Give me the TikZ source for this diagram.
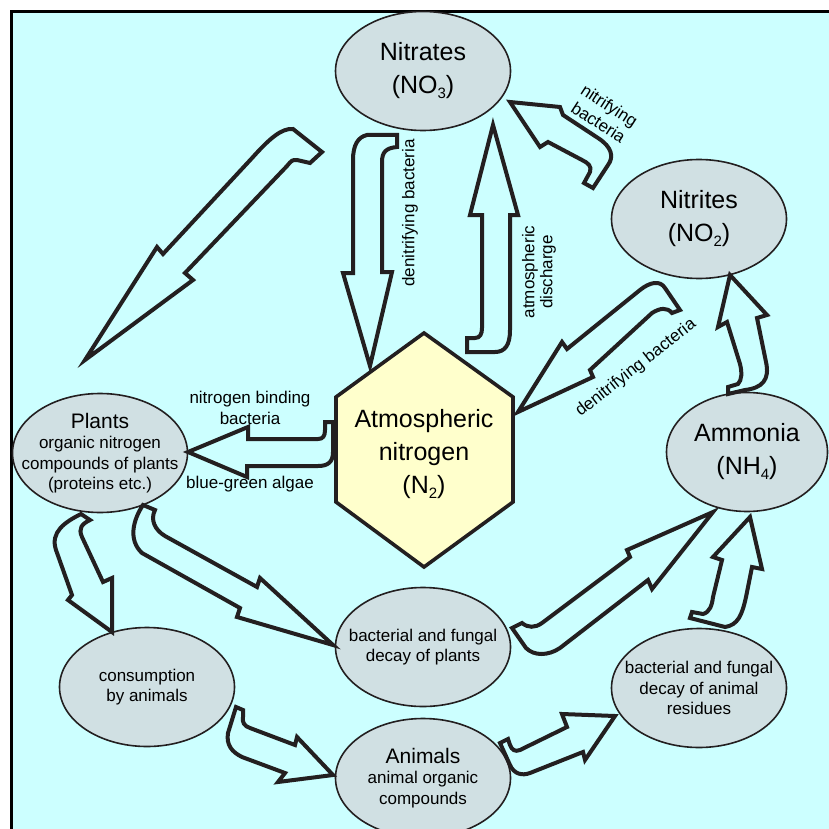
\documentclass[tikz,border=0pt]{standalone}
\usepackage{fontspec}
\setmainfont{Liberation Sans}
\usetikzlibrary{shapes.geometric}
\definecolor{skyback}{RGB}{204,255,255}
\definecolor{poolgrey}{RGB}{208,224,227}
\definecolor{airyellow}{RGB}{255,255,204}
\definecolor{inkline}{RGB}{35,31,32}
\newcommand\lowsub[1]{\raisebox{-5pt}{\fontsize{15}{15}\selectfont #1}}

\begin{document}
\begin{tikzpicture}[x=1pt,y=-1pt,
  pool/.style={draw=inkline,line width=1.6pt,fill=poolgrey,ellipse,minimum width=175pt,minimum height=119pt,inner sep=0pt},
  bigpool/.style={pool,label={[font=\fontsize{25}{33}\selectfont,align=center]center:{#1}}},
  smallpool/.style={pool,label={[font=\fontsize{17}{20.5}\selectfont,align=center]center:{#1}}},
  smalltext/.style={font=\fontsize{17}{20.5}\selectfont},
  fatarrow/.style={draw=inkline,line width=4pt}]
\useasboundingbox (0,0) rectangle (829,829);
\fill[white] (0,0) rectangle (829,829);
\fill[skyback] (12,12) rectangle (829,829);
\draw[line width=3pt] (11.5,829) -- (11.5,11.5) -- (829,11.5);

\draw[line width=3.6pt,draw=inkline,fill=airyellow] (424,333) -- (513,397) -- (513,502) -- (424,567) -- (336,502) -- (336,397) -- cycle;
\node[font=\fontsize{25}{33}\selectfont,align=center] (air) at (424,454) {Atmospheric\\nitrogen\\(N\lowsub{2})};

\node[bigpool={Nitrates\\(NO\lowsub{3})}] (nitrates) at (423,71) {};
\node[bigpool={Nitrites\\(NO\lowsub{2})}] (nitrites) at (699,219) {};
\node[bigpool={Ammonia\\(NH\lowsub{4})},minimum width=161pt] (ammonia) at (747,452) {};
\node[smallpool={{\fontsize{21}{23}\selectfont Plants}\\organic nitrogen\\compounds of plants\\(proteins etc.)}] (plants) at (100,453) {};
\node[smallpool={bacterial and fungal\\decay of plants}] (decplants) at (423,647) {};
\node[smallpool={consumption\\by animals}] (consume) at (147,687) {};
\node[smallpool={{\fontsize{21}{23}\selectfont Animals}\\animal organic\\compounds}] (animals) at (423,778) {};
\node[smallpool={bacterial and fungal\\decay of animal\\residues}] (decanimals) at (699,688) {};

\node[smalltext,rotate=90] (denitup) at (410,213) {denitrifying bacteria};
\node[rotate=90,align=center,font=\fontsize{17}{18}\selectfont] (discharge) at (539,272) {atmospheric\\discharge};
\node[rotate=-33,align=center,font=\fontsize{17}{20}\selectfont] (nitrify) at (604,114) {nitrifying\\bacteria};
\node[smalltext,rotate=38] (denitright) at (636,368) {denitrifying bacteria};
\node[smalltext,align=center] (binding) at (250,408) {nitrogen binding\\bacteria};
\node[smalltext] (algae) at (250,484) {blue-green algae};

\draw[fatarrow] (293,129) -- (322,152) -- (310,163) -- (297,160) .. controls (292,160) .. (287,166) -- (185,273) -- (193,280) -- (85,360) -- (157,247) -- (163,254) -- (253,157) .. controls (270,138) and (282,128) .. (293,129) -- cycle;
\draw[fatarrow] (367,135) -- (397,135) -- (397,147) .. controls (386,148) and (382,152) .. (382,162) -- (382,272) -- (392,272) -- (370,366) -- (343,273) -- (353,273) -- (353,160) .. controls (353,145) and (358,137) .. (367,135) -- cycle;
\draw[fatarrow] (493,125) -- (518,215) -- (510,215) -- (510,330) .. controls (510,345) and (505,352) .. (495,352) -- (467,352) -- (467,338) -- (475,338) .. controls (480,338) and (482,334) .. (482,328) -- (482,215) -- (470,215) -- cycle;
\draw[fatarrow] (510,102) -- (560,107) -- (563,115) -- (598,138) .. controls (612,147) and (614,157) .. (608,165) -- (593,188) -- (584,183) -- (590,172) .. controls (592,166) and (588,163) .. (582,160) -- (548,142) -- (540,147) -- cycle;
\draw[fatarrow] (518,412) -- (562,342) -- (567,349) -- (640,290) .. controls (650,282) and (660,280) .. (665,288) -- (680,310) -- (672,313) .. controls (667,307) and (660,308) .. (652,313) -- (590,370) -- (593,377) -- cycle;
\draw[fatarrow] (730,275) -- (767,315) -- (757,318) -- (766,362) .. controls (770,380) and (762,388) .. (745,390) -- (728,394) -- (728,387) -- (738,384) .. controls (742,380) and (742,372) .. (740,364) -- (727,322) -- (718,327) -- cycle;
\draw[fatarrow] (188,452) -- (248,427) -- (248,439) -- (318,439) .. controls (323,439) and (325,436) .. (325,430) -- (325,422) -- (333,422) -- (333,452) .. controls (333,462) and (328,466) .. (318,466) -- (247,466) -- (247,477) -- cycle;
\draw[fatarrow] (112,632) -- (112,578) -- (103,582) -- (82,537) .. controls (78,528) and (82,524) .. (90,520) -- (81,514) .. controls (65,522) and (50,532) .. (56,550) -- (72,595) -- (68,600) -- cycle;
\draw[fatarrow] (333,645) -- (260,578) -- (257,587) -- (165,536) .. controls (155,530) and (150,520) .. (155,510) -- (143,505) .. controls (133,520) and (128,540) .. (142,553) -- (240,608) -- (237,617) -- cycle;
\draw[fatarrow] (333,775) -- (297,737) -- (295,745) -- (250,728) .. controls (244,726) and (242,722) .. (243,717) -- (243,710) -- (236,707) -- (228,733) .. controls (226,745) and (232,752) .. (242,757) -- (285,773) -- (278,782) -- cycle;
\draw[fatarrow] (615,716) -- (562,714) -- (567,727) -- (520,750) .. controls (515,752) and (512,750) .. (510,745) -- (508,739) -- (500,743) -- (510,765) .. controls (514,774) and (522,776) .. (530,773) -- (583,752) -- (585,760) -- cycle;
\draw[fatarrow] (713,512) -- (627,550) -- (630,557) -- (542,623) .. controls (535,628) and (528,628) .. (522,623) -- (512,628) -- (526,648) .. controls (534,656) and (548,656) .. (560,648) -- (648,580) -- (652,589) -- cycle;
\draw[fatarrow] (750,517) -- (762,569) -- (752,567) -- (746,597) .. controls (742,615) and (738,625) .. (725,627) -- (690,618) -- (692,612) -- (703,614) .. controls (710,612) and (712,605) .. (713,597) -- (722,560) -- (713,557) -- cycle;
\end{tikzpicture}
\end{document}
